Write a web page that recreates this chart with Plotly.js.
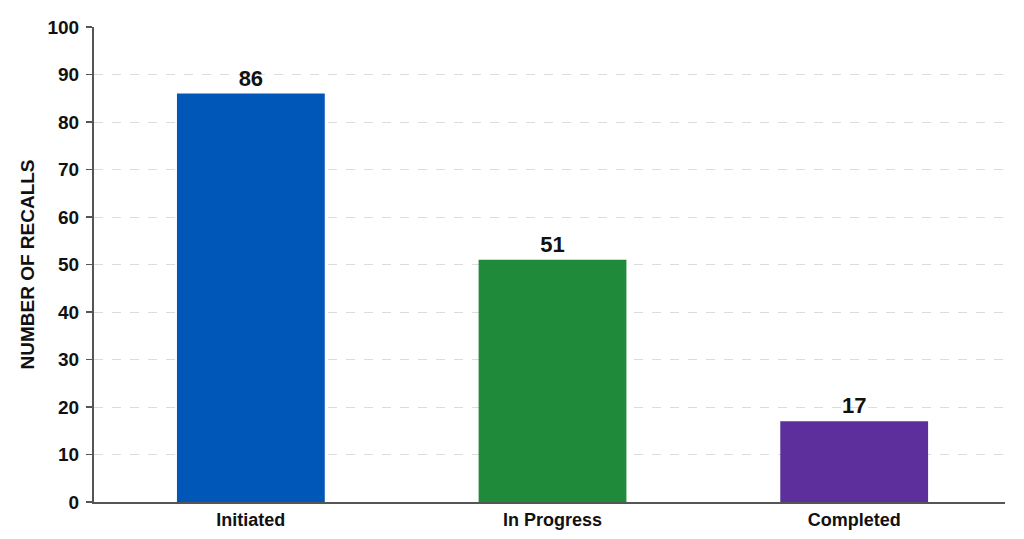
<!DOCTYPE html>
<html>
<head>
<meta charset="utf-8">
<script src="https://cdn.plot.ly/plotly-3.0.1.min.js"></script>
<style>html,body{margin:0;padding:0;background:#fff;}#chart{width:1024px;height:539px;}</style>
</head>
<body>
<div id="chart"></div>
<script>
var categories = ["Initiated", "In Progress", "Completed"];
var recalls = [86, 51, 17];
var barColors = ["#0057B8", "#1F8A3A", "#5C2F9C"];
var yTicks = [0, 10, 20, 30, 40, 50, 60, 70, 80, 90, 100];

var trace = {
  type: "bar",
  x: categories,
  y: recalls,
  width: 0.49,
  marker: {color: barColors},
  text: recalls.map(String),
  textposition: "outside",
  cliponaxis: false,
  textfont: {family: "Liberation Sans, Arial, sans-serif", size: 22, color: "#111", weight: "bold"},
  hoverinfo: "x+y"
};

var layout = {
  width: 1024,
  height: 539,
  margin: {l: 94, r: 19, t: 27, b: 37},
  paper_bgcolor: "#ffffff",
  plot_bgcolor: "#ffffff",
  showlegend: false,
  font: {family: "Liberation Sans, Arial, sans-serif", color: "#111"},
  xaxis: {
    type: "category",
    range: [-0.52, 2.5],
    showline: true,
    linecolor: "#555",
    linewidth: 2,
    ticks: "",
    showgrid: false,
    tickfont: {size: 18, color: "#111", weight: "bold"},
    fixedrange: true
  },
  yaxis: {
    range: [0, 100],
    tickvals: yTicks,
    ticktext: yTicks.map(String),
    showline: true,
    linecolor: "#555",
    linewidth: 2,
    ticks: "outside",
    ticklen: 6,
    tickcolor: "#555",
    tickwidth: 1.5,
    ticklabelstandoff: 3,
    showgrid: true,
    gridcolor: "#dcdcdc",
    griddash: "dash",
    gridwidth: 1,
    zeroline: false,
    tickfont: {size: 19, color: "#111", weight: "bold"},
    title: {text: "NUMBER OF RECALLS", font: {size: 19, color: "#111", weight: "bold"}, standoff: 8},
    fixedrange: true
  }
};

Plotly.newPlot("chart", [trace], layout, {displayModeBar: false, staticPlot: true});
</script>
</body>
</html>
